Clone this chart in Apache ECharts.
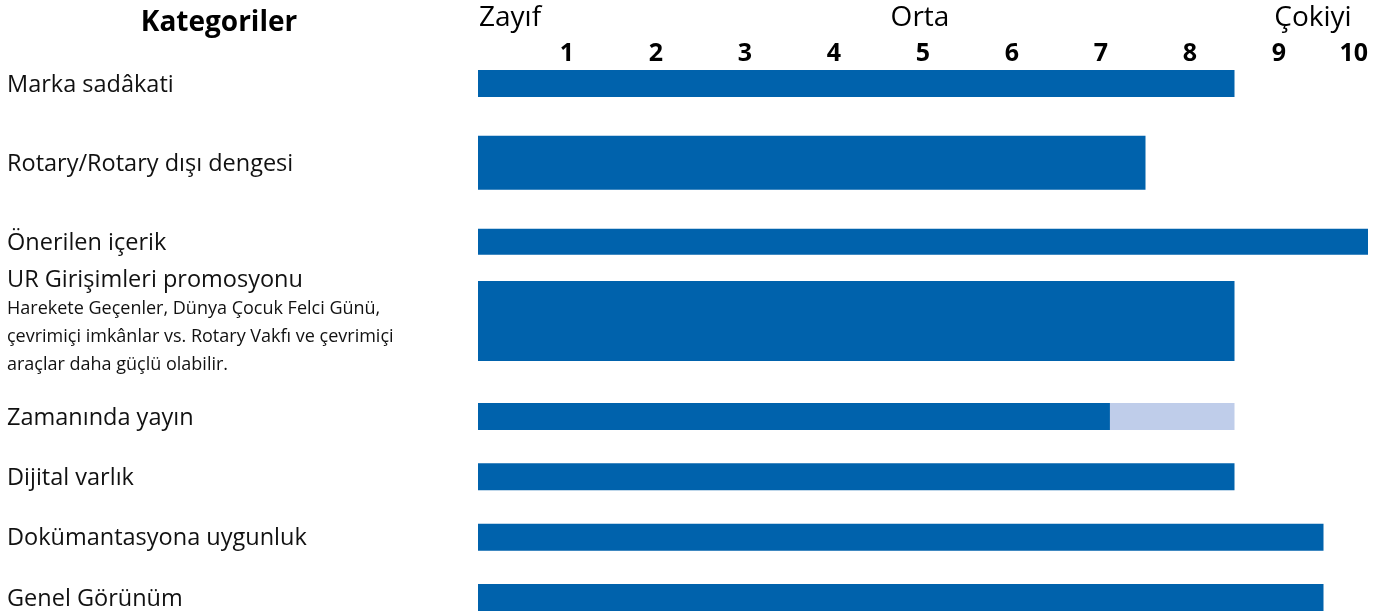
<!DOCTYPE html>
<html><head><meta charset="utf-8">
<script src="https://cdn.jsdelivr.net/npm/echarts@6/dist/echarts.min.js"></script>
<style>html,body{margin:0;padding:0;background:#fff}#c{width:1396px;height:616px}</style>
</head><body><div id="c"></div>
<script>
// ---- data ----
const categories = ['Marka sadâkati','Rotary/Rotary dışı dengesi','Önerilen içerik','UR Girişimleri promosyonu','Zamanında yayın','Dijital varlık','Dokümantasyona uygunluk','Genel Görünüm'];
const categoryNotes = ['', '', '', 'Harekete Geçenler, Dünya Çocuk Felci Günü,\nçevrimiçi imkânlar vs. Rotary Vakfı ve çevrimiçi\naraçlar daha güçlü olabilir.', '', '', '', ''];
const scores = [8.5, 7.5, 10, 8.5, 7.1, 8.5, 9.5, 9.5];
const potential = [null, null, null, null, 8.5, null, null, null];
const tickLabels = ['1','2','3','4','5','6','7','8','9','10'];
const scaleWords = ['Zayıf','Orta','Çokiyi'];
const headerTitle = 'Kategoriler';

// ---- layout / style (not data) ----
const barThickness = [27, 54, 26, 80, 27, 27, 27, 27];
const gridSplit = 4;
const DARK = '#0062ac', LIGHT = '#bfcdea';
const FONT = 'Open Sans';

const catA = categories.slice(0, gridSplit), catB = categories.slice(gridSplit);
function labelFmt(offset){
  return function(v, i){
    const note = categoryNotes[offset + i];
    if (!note) return '{main|' + v + '}';
    return '{main|' + v + '}\n' + note.split('\n').map(s => '{sub|' + s + '}').join('\n');
  };
}
const rich = {
  main:{fontFamily:FONT,fontSize:23.5,color:'#111',lineHeight:28},
  sub:{fontFamily:FONT,fontSize:18,color:'#111',lineHeight:28}
};
function mkY(idx, cats, offset){
  return {type:'category', gridIndex:idx, data:cats, inverse:true, boundaryGap:false,
    axisLine:{show:false}, axisTick:{show:false}, splitLine:{show:false},
    axisLabel:{align:'left', margin:471, formatter:labelFmt(offset), rich:rich, padding:[3,0,0,0]}};
}
function mkRender(offset, color){
  return function(params, api){
    const v = api.value(0), c = api.value(1);
    if (v == null || isNaN(v)) return;
    const p0 = api.coord([0, c]), p1 = api.coord([v, c]);
    const h = barThickness[offset + params.dataIndex];
    return {type:'rect', shape:{x:p0[0], y:p0[1]-h/2, width:p1[0]-p0[0], height:h}, style:{fill:color}};
  };
}
function mkSeries(idx, arr, offset, color){
  const d = arr.slice(offset, offset + (idx===0?gridSplit:categories.length-gridSplit)).map((v,i)=>[v==null?NaN:v, i]);
  return {type:'custom', xAxisIndex:idx, yAxisIndex:idx, data:d, encode:{x:0,y:1},
    renderItem:mkRender(offset, color), silent:true, animation:false};
}

const chart = echarts.init(document.getElementById('c'));
chart.setOption({
  animation:false,
  title:{text:headerTitle, left:214, textAlign:'center', top:4, textStyle:{fontFamily:FONT,fontSize:28,fontWeight:'bold',color:'#000'}},
  graphic:[
    {type:'text', x:479, y:4, style:{text:scaleWords[0], font:'28px "Open Sans"', fill:'#000'}},
    {type:'text', x:920, y:4, style:{text:scaleWords[1], font:'28px "Open Sans"', fill:'#000', align:'center'}},
    {type:'text', x:1313, y:4, style:{text:scaleWords[2], font:'28px "Open Sans"', fill:'#000', align:'center'}}
  ],
  grid:[
    {left:478, width:890, top:83.5, height:237.5},
    {left:478, width:890, top:416.5, height:181}
  ],
  xAxis:[
    {type:'value', gridIndex:0, position:'top', min:0, max:10, interval:1,
     axisLine:{show:false}, axisTick:{show:false}, splitLine:{show:false},
     axisLabel:{margin:17, alignMaxLabel:'right', fontFamily:FONT, fontSize:25, fontWeight:'bold', color:'#000',
       formatter:v => v===0 ? '' : tickLabels[v-1]}},
    {type:'value', gridIndex:1, min:0, max:10, interval:1, show:false}
  ],
  yAxis:[mkY(0, catA, 0), mkY(1, catB, gridSplit)],
  series:[
    mkSeries(0, potential, 0, LIGHT),
    mkSeries(1, potential, gridSplit, LIGHT),
    mkSeries(0, scores, 0, DARK),
    mkSeries(1, scores, gridSplit, DARK)
  ]
});
</script></body></html>
